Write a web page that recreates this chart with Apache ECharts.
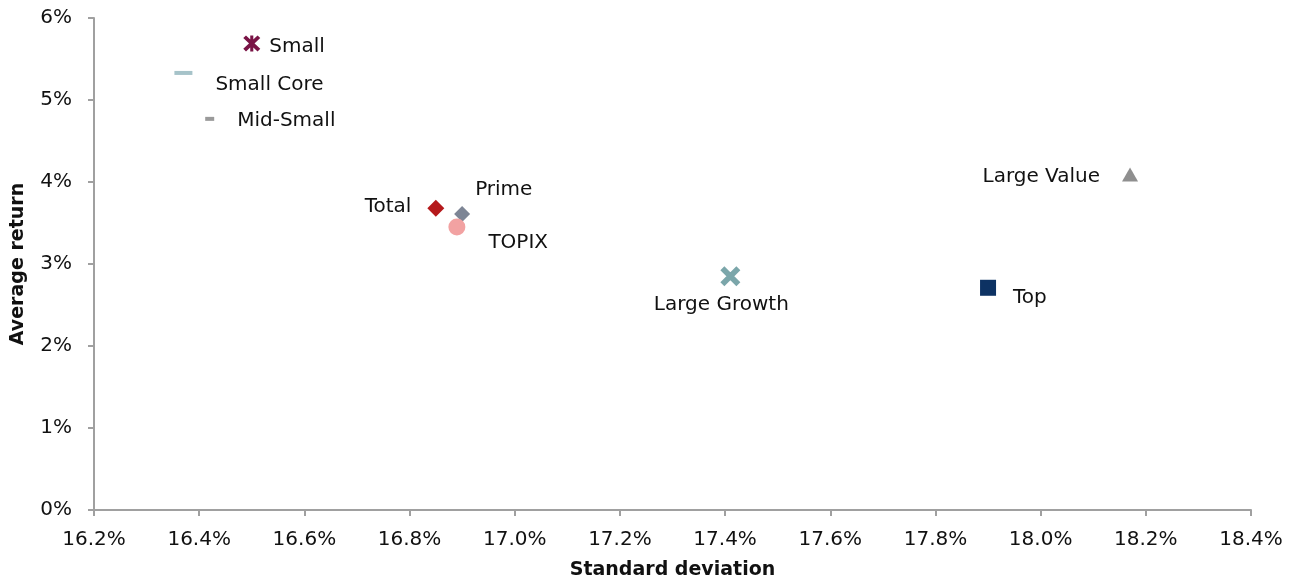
<!DOCTYPE html>
<html>
<head>
<meta charset="utf-8">
<script src="https://cdn.jsdelivr.net/npm/echarts@6/dist/echarts.min.js"></script>
<style>
  html, body { margin: 0; padding: 0; background: #fff; }
  #chart { width: 1299px; height: 585px; }
</style>
</head>
<body>
<div id="chart"></div>
<script>
// risk / return per index (standard deviation %, average return %)
const names = ['Small', 'Small Core', 'Mid-Small', 'Total', 'Prime', 'TOPIX', 'Large Growth', 'Top', 'Large Value'];
const stdDev = [16.50, 16.37, 16.42, 16.85, 16.90, 16.89, 17.41, 17.90, 18.17];
const avgReturn = [5.69, 5.33, 4.77, 3.68, 3.61, 3.45, 2.85, 2.71, 4.09];

const xTicks = { min: 16.2, max: 18.4, step: 0.2 };
const yTicks = { min: 0, max: 6, step: 1 };

// marker shapes
const asterisk = 'path://M4.1,0L5.9,0L5.9,10L4.1,10Z M0,1.6L1.6,0L10,8.4L8.4,10Z M10,1.6L1.6,10L0,8.4L8.4,0Z';
const cross = 'path://M0,2L2,0L10,8L8,10Z M10,2L2,10L0,8L8,0Z';

const looks = {
  'Small':        { symbol: asterisk, size: [17, 16], color: '#7A1446', pos: 'right', offset: [4, 3] },
  'Small Core':   { symbol: 'rect', size: [18, 4], color: '#A6C3C9', pos: 'right', offset: [18, 12] },
  'Mid-Small':    { symbol: 'rect', size: [9, 4], color: '#9A9A9A', pos: 'right', offset: [18, 2] },
  'Total':        { symbol: 'diamond', size: [17, 17], color: '#B5191B', pos: 'left', offset: [-11, -1] },
  'Prime':        { symbol: 'diamond', size: [16, 16], color: '#7D8595', pos: 'right', offset: [0, -24] },
  'TOPIX':        { symbol: 'circle', size: [17, 17], color: '#F2A2A2', pos: 'right', offset: [18, 16] },
  'Large Growth': { symbol: cross, size: [20, 20], color: '#7BA6AA', pos: 'bottom', offset: [-9, 3] },
  'Top':          { symbol: 'rect', size: [16, 16], color: '#0D3263', pos: 'right', offset: [12, 10] },
  'Large Value':  { symbol: 'triangle', size: [16, 14], color: '#8F8F8F', pos: 'left', offset: [-17, 2] }
};

const series = names.map((name, i) => {
  const s = looks[name];
  return {
    name: name,
    type: 'scatter',
    data: [[stdDev[i], avgReturn[i]]],
    symbol: s.symbol,
    symbolSize: s.size,
    itemStyle: { color: s.color, opacity: 1 },
    label: {
      show: true,
      formatter: name,
      position: s.pos,
      offset: s.offset,
      color: '#111',
      fontSize: 20,
      fontFamily: 'DejaVu Sans'
    }
  };
});

const chart = echarts.init(document.getElementById('chart'));
chart.setOption({
  backgroundColor: '#fff',
  animation: false,
  textStyle: { fontFamily: 'DejaVu Sans' },
  grid: { left: 94, right: 48, top: 18, bottom: 75, containLabel: false },
  xAxis: {
    type: 'value',
    min: xTicks.min,
    max: xTicks.max,
    interval: xTicks.step,
    name: 'Standard deviation',
    nameLocation: 'middle',
    nameGap: 51,
    nameTextStyle: { fontSize: 19, fontWeight: 'bold', color: '#111' },
    axisLine: { show: true, lineStyle: { color: '#A0A0A0', width: 2 } },
    axisTick: { show: true, length: 6, lineStyle: { color: '#A0A0A0', width: 2 } },
    axisLabel: { fontSize: 20, color: '#111', margin: 20, formatter: v => v.toFixed(1) + '%' },
    splitLine: { show: false }
  },
  yAxis: {
    type: 'value',
    min: yTicks.min,
    max: yTicks.max,
    interval: yTicks.step,
    name: 'Average return',
    nameLocation: 'middle',
    nameGap: 66,
    nameTextStyle: { fontSize: 19, fontWeight: 'bold', color: '#111' },
    axisLine: { show: true, lineStyle: { color: '#A0A0A0', width: 2 } },
    axisTick: { show: true, length: 6, lineStyle: { color: '#A0A0A0', width: 2 } },
    axisLabel: { fontSize: 20, color: '#111', margin: 22, formatter: v => v + '%' },
    splitLine: { show: false }
  },
  series: series
});
</script>
</body>
</html>
